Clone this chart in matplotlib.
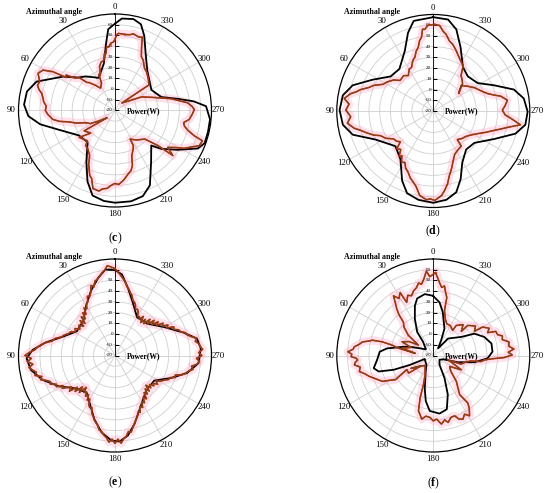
import numpy as np
import matplotlib.pyplot as plt

plt.rcParams['font.family'] = ['Liberation Serif', 'DejaVu Serif']
plt.rcParams['mathtext.fontset'] = 'custom'
plt.rcParams['mathtext.rm'] = 'Liberation Serif'
plt.rcParams['mathtext.bf'] = 'Liberation Serif:bold'

# -----------------------------
# data (angle in degrees, power in W)
# -----------------------------
angle_ticks = list(range(0, 360, 30))
power_ticks = [-20, -10, 0, 10, 20, 30, 40, 50, 60]

# (c)
c_sim_theta = [0, 4.8, 7.6, 13.4, 26.6, 33, 40.8, 48, 57, 69.8, 77.8, 86.3, 93.7, 100.4,
               109.2, 124.5, 139.1, 151, 158.8, 165.2, 173, 180, 190, 198, 205, 214.8,
               226, 230.3, 237.9, 245.4, 250, 257, 264.7, 272.7, 276.6, 280.4, 286.2,
               299.6, 309.7, 321.2, 331.5, 338.7, 343.3, 348.6, 355.7, 360]
c_sim_power = [61, 56, 43, 25, 14, 17, 22, 26, 38, 58, 64, 65, 61, 51,
               35, 21, 19, 35, 51, 62, 65, 66, 66, 64, 57, 39,
               27, 36, 49, 65, 69, 69, 69, 65, 54, 40, 25,
               19, 22, 28, 40, 55, 64, 67, 66, 61]
c_meas_theta = [352.4, 357.3, 358.5, 1.1, 3.5, 5.6, 7.5, 8.9, 10.5, 12.5, 16, 19.5, 22.2, 24,
                26.3, 32.9, 38, 42.9, 45, 47.5, 51, 54, 56, 58, 60.7, 64.2, 69, 72, 74.7,
                77, 80.2, 83, 86.4, 90, 93.4, 98.1, 101, 104, 108, 112.6, 118, 123, 132.5,
                123.4, 132.9, 126.9, 137.6, 140.2, 145, 150.6, 154, 158.7, 161, 164.2,
                168.7, 171, 174.2, 177, 179.7, 183, 187, 192, 195, 197.6, 200.4, 204,
                207.6, 207.9, 216, 226.3, 230.8, 232.1, 235, 238, 241.4, 244, 247.3, 250.9,
                252.3, 255, 257.4, 260, 263.2, 267, 270.7, 273, 276, 279.2, 282, 285.1,
                290, 297, 317.6, 307, 312, 316, 320.9, 325, 330.7, 334, 337.2, 339.6,
                342, 346.5, 349, 352.4]
c_meas_power = [51.5, 52, 51, 44, 43, 39.5, 40, 33.7, 34, 28, 27, 23.3, 15.8, 17,
                8.4, 4.8, 10, 15.6, 17, 25.4, 28, 36.4, 35, 48.3, 57, 59.7, 55.2, 56, 53.4,
                50, 48.2, 47, 44.2, 45, 42.7, 38.6, 33, 24, 18, 9.6, 6, -2, -10,
                14.5, 11, 21.8, 18.2, 22.7, 24, 28.2, 36, 44.9, 47, 55.6,
                56.6, 54, 53, 50, 48.1, 49, 45.5, 40.2, 38, 33.7, 24.8, 21,
                17, 10.2, 14, 18.6, 31.9, 48.4, 40, 45, 53.7, 58, 65.1, 66.3,
                57.6, 50, 46.3, 45, 49.8, 52, 54, 52, 48.2, 39.4, 33, 24.8,
                16, 7.9, -10.5, 19.6, 22, 24, 26.6, 28, 33.8, 36, 44, 53,
                52, 53.5, 52, 51.5]

# (d)
d_sim_theta = [0, 12.3, 17.9, 25.4, 38.8, 51.1, 62.8, 72.3, 80.1, 89.4, 98.7, 106.4, 116.4,
               132.9, 145.8, 155.9, 162.3, 170.5, 180, 188.4, 195.8, 201.9, 209.3, 220.5,
               232.2, 245.3, 254.6, 261.5, 269.6, 277.9, 284.9, 292.9, 302.2, 315, 325.9,
               336.7, 344.2, 350.8, 360]
d_sim_power = [67.5, 66, 56.7, 42, 30.4, 31.3, 43.8, 58.9, 65.6, 67.4, 65.3, 58.3, 40,
               28.2, 34.5, 51.2, 60.5, 64, 65.6, 63.7, 58.7, 48.4, 35.2, 27.2,
               28.5, 42.5, 59.5, 66.8, 68, 65.2, 57.8, 41.6, 28.9, 25.6, 29.3,
               44.4, 59, 66.4, 67.5]
d_meas_theta = [359, 3.5, 6, 7.5, 9.2, 11, 13.4, 16, 19, 22, 26.4, 30, 35.1, 40, 47.4, 52,
                58, 62, 66.7, 70, 73.6, 76, 78.1, 82, 85.3, 89.4, 93.9, 98.1, 102.2, 105,
                108.4, 112, 114.9, 120, 125, 129.6, 133, 136, 139.8, 143, 145, 148, 151.3,
                154, 157.9, 161, 164.3, 167, 170.9, 175.6, 178, 181, 185.6, 188, 191,
                194, 197.3, 201, 206.2, 212, 218.5, 220, 226, 232.4, 238, 243, 248,
                252.3, 255, 258, 261, 264.7, 267, 270.8, 274, 278.3, 282.4, 285, 287.8,
                292, 299.6, 305, 312.5, 304.5, 313, 318, 322, 326.6, 331, 336.8, 340,
                343.8, 347, 350.5, 353, 355.8, 359]
d_meas_power = [60.7, 60.2, 56.5, 57, 49.3, 47, 40.9, 38, 32.9, 31, 25.5, 25, 20.5, 23, 22.1, 27,
                31, 33, 40.5, 44, 50.7, 54, 58.7, 63.9, 58.8, 61.6, 57.2, 60.9, 55.6, 50,
                45, 40, 34.5, 31, 25.3, 24.3, 22, 29, 27, 33, 31, 36, 34.9,
                39, 42, 46, 49, 52, 59.8, 63, 62, 63.4, 59.2, 55, 49.4,
                42, 36.8, 31, 25.1, 23, 21.9, 14.8, 17, 18.7, 22, 26.5, 33,
                39.5, 45, 52.1, 62.3, 52.4, 47, 44.4, 47, 49.8, 44.4, 38, 33.2,
                29, 24.1, 20, 15.3, 8.7, 17.3, 20, 22, 30.7, 33, 37.7, 41,
                44.8, 47, 52.4, 55, 60, 60.7]

# (e)
e_sim_theta = [0, 6.3, 12.2, 20.4, 30.1, 42, 57.6, 70.7, 79.4, 86.2, 91.8, 99.6, 108.4,
               118.7, 130.9, 142.8, 152.9, 162, 170, 177.6, 183.1, 189.1, 195.8, 205.9,
               220.9, 237.3, 247.9, 256.3, 264.7, 274.7, 281.7, 288.4, 300.1, 314.3,
               330.1, 341.5, 349.3, 355.1, 360]
e_sim_power = [59.6, 60.7, 54.2, 44.3, 33.7, 24, 22.1, 32.3, 45.9, 57.1, 62.5, 59.7, 51.5,
               39.8, 27.1, 23.7, 31.2, 42.4, 52.7, 59.4, 60.3, 55.6, 46.5, 34,
               24, 23.4, 36, 49.1, 58.2, 60.3, 58, 47.5, 32.9, 22.4,
               21.2, 32.2, 44.4, 55.9, 59.6]
e_meas_theta = ([0] + list(range(3, 48, 2)) + list(range(50, 78, 3))
                + list(range(80, 361, 2)))
e_meas_power = [61, 63, 64, 60, 58, 55, 53, 52, 47, 49, 43, 40, 41, 36, 35, 31, 33, 27, 30, 24,
                28, 21, 26, 20, 24, 21, 25, 23, 27, 28, 31, 33, 38, 40, 47, 50, 53, 55, 60, 64,
                58, 62, 57, 61, 58, 55, 57, 51, 53, 48, 45, 46, 41, 42, 36, 38, 33, 30, 34, 26,
                30, 22, 28, 20, 25, 23, 27, 24, 29, 27, 32, 34, 33, 38, 40, 43, 45, 47, 51, 52,
                55, 57, 61, 58, 62, 58, 62, 58, 56, 52, 53, 49, 46, 43, 41, 37, 38, 33, 35, 30,
                32, 27, 30, 24, 27, 22, 26, 20, 25, 22, 26, 24, 28, 25, 28, 30, 32, 35, 35, 40,
                39, 45, 48, 50, 54, 52, 57, 59, 56, 61, 58, 62, 60, 59, 56, 58, 53, 50, 49, 45,
                44, 40, 41, 35, 37, 32, 34, 28, 31, 25, 29, 22, 27, 20, 24, 19, 25, 21, 23, 22,
                26, 28, 27, 31, 33, 34, 38, 40, 43, 45, 49, 52, 55, 58, 61]

# (f)
f_sim_theta = [0.3, 7.9, 15.8, 20.3, 26.7, 34.4, 36.8, 50, 69.5, 73.8, 81.3, 86, 94.5, 102,
               106.3, 109.8, 111.9, 112, 143.6, 154.6, 165.2, 170.6, 176.3, 186.1, 194.1,
               200.4, 206.4, 213.7, 235, 249, 254.7, 260.7, 267, 273.7, 281.7, 290, 298,
               303.6, 318.9, 326, 332.7, 337.4, 347.6, 353.3, 360.3]
f_sim_power = [35.7, 37.8, 35.3, 29.5, 18.3, 6.6, -4.1, -11, 3.2, 9.1, 23.7, 30.1, 32.6, 36.8,
               33.1, 19.4, 3.5, -11.4, -9.1, -3.5, 11.3, 23.1, 31.8, 34.5, 31.7,
               18.8, 3.5, -9.5, -13, -10.2, 3.9, 18.9, 30.7, 35.3, 35.4, 30.6, 23.4,
               11.3, 1, -12, -4, 7.1, 21.3, 29.9, 35.7]
f_meas_theta = [358.4, 2.6, 4.7, 7, 9.4, 11.5, 13.9, 17, 20, 23, 26.6, 27.8, 31, 33.7, 36,
                38.1, 40, 41.9, 46, 51, 55, 60, 66.4, 70, 77.2, 80, 83.3, 78, 75.9, 75,
                75.9, 77.5, 79.1, 81.5, 83.7, 85.5, 87.5, 89, 90.8, 92, 93.4, 95, 96.8, 99,
                102.2, 105, 108, 112, 116.9, 120, 122.6, 118, 125.5, 130, 120, 140, 156.9,
                161.3, 162.7, 165, 167, 169.7, 173, 177, 180, 183, 185, 186.8, 190, 192.5,
                196, 199.5, 202, 205, 208, 211, 214, 216, 214, 221.7, 228, 236.2, 242.9,
                248, 253.3, 252.7, 258, 261.8, 262.7, 265, 266.6, 268.3, 270.4, 272.5,
                274.6, 277, 280.2, 283, 285.8, 288, 291.1, 292.8, 296, 300, 300.5, 305,
                311.1, 310.8, 316, 322.6, 322.4, 330, 337, 342, 346, 346.9, 349, 350.9,
                353, 355.1, 358.4]
f_meas_power = [57.2, 53.6, 59, 52, 47.3, 49, 45.2, 43, 39.3, 41, 35.4, 46.4, 42, 46.9, 40,
                35.2, 30, 21.8, 18, 10, -3, 6, 11.8, 2, 9.9, 1, -3, 14, 19.6, 29.2,
                38.5, 42, 47.2, 50, 54.1, 55, 59.8, 56, 56.7, 52, 50.7, 53, 54.1, 49,
                50.6, 46, 42.9, 38, 33.3, 26, 21.9, 8, 8.2, -5, 4, -8, -0.5,
                8.7, 21.3, 33.5, 36, 40.3, 37, 37.9, 41, 39.4, 42, 44.4, 41, 43.9,
                40, 39.7, 44, 45.5, 42, 45.6, 40, 34.9, 23.9, 12.3, 2, -1.6, 9.3,
                0, -5.6, 7.3, 10, 15.6, 24.8, 28, 33.8, 46, 53.6, 50,
                55.4, 51, 51.7, 46, 47, 43, 42.5, 34.9, 38, 33.1, 24.5, 28,
                22.7, 14.5, 20, 15.3, 9.6, 12, 12.2, 16, 23.2, 35.6, 40, 45.7,
                44, 48.2, 57.2]

panel_letters = ['c', 'd', 'e', 'f']

# -----------------------------
# layout (pixels of a 550 x 493 canvas)
# -----------------------------
W, H = 550, 493
R = 96.5
centers = [(115, 110.5), (433.3, 111), (115, 355.5), (433.3, 355.5)]
letter_y = [238, 231, 482, 483]

fig = plt.figure(figsize=(W / 100, H / 100), dpi=100)


def draw_panel(center, sim_t, sim_r, meas_t, meas_r, letter, ly):
    cx, cy = center
    rect = [(cx - R) / W, 1 - (cy + R) / H, 2 * R / W, 2 * R / H]
    ax = fig.add_axes(rect, projection='polar')
    ax.set_theta_zero_location('N')
    ax.set_theta_direction(1)
    ax.set_ylim(-20, 70)
    ax.set_yticks(power_ticks[1:])
    ax.set_yticklabels([])
    ax.set_xticks(np.deg2rad(angle_ticks))
    ax.set_xticklabels([])
    ax.grid(True, color='#cfcfcf', lw=0.6)
    ax.spines['polar'].set_linewidth(0.9)

    # angle labels
    for a in angle_ticks:
        ax.text(np.deg2rad(a), 76.5, str(a), ha='center', va='center',
                fontsize=6.3, clip_on=False)

    # radial axis with ticks and labels
    ax.plot([0, 0], [-20, 70], color='k', lw=0.6, zorder=4)
    ax.plot(np.zeros(len(power_ticks)), power_ticks, ls='none', marker=1,
            ms=3, mew=0.6, color='k', zorder=4)
    for v in power_ticks:
        ax.annotate(str(v), xy=(0, v), xytext=(-1.5, 0), textcoords='offset points',
                    ha='right', va='center', fontsize=3.6, zorder=5)

    # curves
    mt = np.deg2rad(meas_t)
    ax.plot(mt, meas_r, color='#ff9cc0', lw=6, alpha=0.3, zorder=2,
            solid_joinstyle='round')
    ax.plot(np.deg2rad(sim_t), sim_r, color='k', lw=1.3, zorder=3)
    ax.plot(mt, meas_r, color='#e02a1a', lw=1.2, zorder=5)
    ax.plot(mt, meas_r, color='#7a4515', lw=0.8, zorder=6)

    ax.text(0.56, 0.497, 'Power(W)', transform=ax.transAxes, fontsize=5.5,
            fontweight='bold', ha='left', va='center', zorder=7)

    fig.text((cx - 61) / W, 1 - (cy - 98.5) / H, 'Azimuthal angle', fontsize=5.7,
             fontweight='bold', ha='center', va='center')
    fig.text(cx / W, 1 - ly / H, r'($\mathbf{' + letter + '}$)', fontsize=8.5,
             ha='center', va='center')


draw_panel(centers[0], c_sim_theta, c_sim_power, c_meas_theta, c_meas_power, panel_letters[0], letter_y[0])
draw_panel(centers[1], d_sim_theta, d_sim_power, d_meas_theta, d_meas_power, panel_letters[1], letter_y[1])
draw_panel(centers[2], e_sim_theta, e_sim_power, e_meas_theta, e_meas_power, panel_letters[2], letter_y[2])
draw_panel(centers[3], f_sim_theta, f_sim_power, f_meas_theta, f_meas_power, panel_letters[3], letter_y[3])

fig.savefig('out.png', dpi=100)
